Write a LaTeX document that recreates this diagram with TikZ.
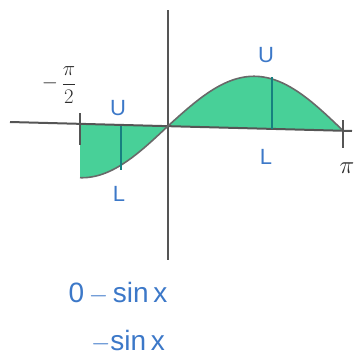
\documentclass[tikz,border=0pt]{standalone}
\usepackage{fontspec}
\setmainfont{Liberation Sans}
\begin{document}
\begin{tikzpicture}[x=1pt,y=-1pt,
  axisline/.style={draw=axisgray,line width=2pt},
  curveline/.style={draw=curvegray,line width=1.6pt},
  region/.style={fill=mint},
  strip/.style={draw=tealline,line width=2pt},
  bluelabel/.style={text=penblue,font=\fontsize{22}{24}\selectfont},
  blacklabel/.style={text=pencil},
  note/.style={text=penblue,font=\fontsize{28}{30}\selectfont}]
\definecolor{axisgray}{RGB}{85,85,85}
\definecolor{curvegray}{RGB}{105,105,105}
\definecolor{mint}{RGB}{72,208,152}
\definecolor{tealline}{RGB}{22,128,128}
\definecolor{penblue}{RGB}{60,120,200}
\definecolor{pencil}{RGB}{45,45,45}
\useasboundingbox (0,0) rectangle (360,362);
% fills
\fill[region] plot[domain=80:168,samples=60,smooth] (\x,{126+0.0263*(\x-168)-54*sin((\x-168)/175*180)}) -- (80,{126+0.0263*(80-168)}) -- cycle;
\fill[region] plot[domain=168:343,samples=80,smooth] (\x,{126+0.0263*(\x-168)-52*sin((\x-168)/175*180)}) -- cycle;
% axes
\coordinate (xl) at (10,122);
\coordinate (xr) at (352,131);
\coordinate (yt) at (168,10);
\coordinate (yb) at (168,260);
\draw[axisline] (xl) -- (xr);
\draw[axisline] (yt) -- (yb);
% curve
\draw[curveline] plot[domain=80:343,samples=120,smooth] (\x,{126+0.0263*(\x-168)-(\x<168?54:52)*sin((\x-168)/175*180)});
% ticks
\coordinate (tl1) at (80,113);
\coordinate (tl2) at (80,145);
\coordinate (tr1) at (343,120);
\coordinate (tr2) at (343,148);
\draw[axisline] (tl1) -- (tl2);
\draw[axisline] (tr1) -- (tr2);
% strips
\coordinate (s1t) at (121,126);
\coordinate (s1b) at (121,170);
\coordinate (s2t) at (272,77);
\coordinate (s2b) at (272,129);
\draw[strip] (s1t) -- (s1b);
\draw[strip] (s2t) -- (s2b);
% labels
\node[bluelabel] (u1) at (118,108) {U};
\node[bluelabel] (l1) at (119,194) {L};
\node[bluelabel] (u2) at (266,55) {U};
\node[bluelabel] (l2) at (266,157) {L};
\node[blacklabel,font=\fontsize{28}{30}\selectfont] (pi) at (347,168) {$\pi$};
\node[blacklabel,font=\fontsize{20}{22}\selectfont,inner sep=0pt] (mminus) at (50,83) {$-$};
\node[blacklabel,font=\fontsize{20}{22}\selectfont,inner sep=0pt] (mfrac) at (69,85) {$\displaystyle\frac{\pi}{2}$};
\node[note] (n1) at (118,293) {0\,$-$\,sin\,x};
\node[note] (n2) at (128,341) {$-$sin\,x};
\end{tikzpicture}
\end{document}
